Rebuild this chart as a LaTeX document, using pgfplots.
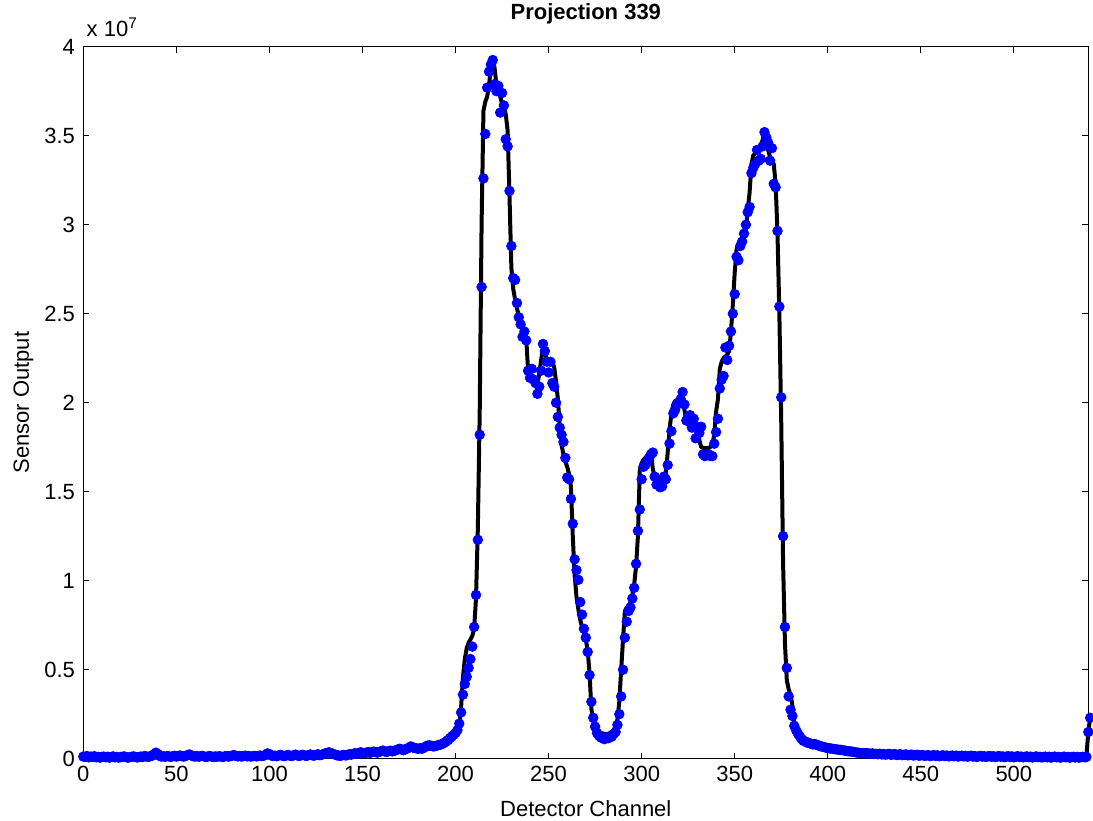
\documentclass[border=0pt]{standalone}
\usepackage{fontspec}
\setmainfont{Liberation Sans}
\usepackage{pgfplots}
\pgfplotsset{compat=1.18}

\begin{document}
\begin{tikzpicture}[font=\fontsize{11}{13}\selectfont]
\begin{axis}[
    scale only axis,
    width=502.5pt, height=356pt,
    xmin=0, xmax=540, ymin=0, ymax=40,
    xtick={0,50,...,500},
    ytick={0,5,...,40},
    yticklabels={0,0.5,1,1.5,2,2.5,3,3.5,4},
    /pgf/number format/assume math mode=true,
    tick align=inside,
    major tick length=3pt,
    tick style={black, line width=0.5pt},
    axis line style={line width=0.6pt},
    clip=false,
    xticklabel style={anchor=base, yshift=-11.3pt},
    yticklabel style={anchor=east, inner sep=0pt, xshift=-4pt},
    every axis title shift=0pt,
    title={\bfseries Projection 339},
    title style={at={(axis description cs:0.5,1.0388)}, anchor=base, inner sep=0pt},
    xlabel={Detector Channel},
    xlabel style={at={(axis description cs:0.5,-0.0812)}, anchor=base, inner sep=0pt},
    ylabel={Sensor Output},
    ylabel style={at={(axis description cs:-0.0541,0.5)}, anchor=base, inner sep=0pt},
]
% measured channel values (units of 1e6)
\addplot[only marks, mark=*, mark size=2.4pt, color=blue, mark options={fill=blue, draw=blue}] coordinates {
(0,0.12)(1,0.10)(2,0.15)(3,0.08)(4,0.12)(5,0.10)(6,0.14)(7,0.08)(8,0.10)(9,0.06)
(10,0.10)(11,0.12)(12,0.08)(13,0.11)(14,0.06)(15,0.10)(16,0.13)(17,0.08)(18,0.10)(19,0.06)
(20,0.09)(21,0.11)(22,0.13)(23,0.09)(24,0.06)(25,0.09)(26,0.11)(27,0.13)(28,0.10)(29,0.07)
(30,0.10)(31,0.12)(32,0.10)(33,0.15)(34,0.12)(35,0.10)(36,0.14)(37,0.17)(38,0.25)(39,0.34)
(40,0.27)(41,0.16)(42,0.12)(43,0.14)(44,0.11)(45,0.15)(46,0.13)(47,0.10)(48,0.14)(49,0.16)
(50,0.12)(51,0.15)(52,0.18)(53,0.14)(54,0.12)(55,0.16)(56,0.20)(57,0.24)(58,0.19)(59,0.14)
(60,0.12)(61,0.15)(62,0.11)(63,0.14)(64,0.16)(65,0.12)(66,0.10)(67,0.13)(68,0.15)(69,0.12)
(70,0.10)(71,0.13)(72,0.11)(73,0.14)(74,0.12)(75,0.10)(76,0.13)(77,0.15)(78,0.12)(79,0.14)
(80,0.18)(81,0.20)(82,0.16)(83,0.13)(84,0.15)(85,0.12)(86,0.14)(87,0.17)(88,0.13)(89,0.15)
(90,0.12)(91,0.14)(92,0.16)(93,0.13)(94,0.15)(95,0.18)(96,0.15)(97,0.17)(98,0.22)(99,0.30)
(100,0.26)(101,0.18)(102,0.15)(103,0.17)(104,0.14)(105,0.19)(106,0.22)(107,0.17)(108,0.15)(109,0.18)
(110,0.21)(111,0.17)(112,0.15)(113,0.19)(114,0.23)(115,0.18)(116,0.16)(117,0.19)(118,0.22)(119,0.18)
(120,0.16)(121,0.20)(122,0.24)(123,0.19)(124,0.17)(125,0.21)(126,0.25)(127,0.20)(128,0.22)(129,0.26)
(130,0.30)(131,0.33)(132,0.36)(133,0.32)(134,0.28)(135,0.24)(136,0.20)(137,0.18)(138,0.16)(139,0.19)
(140,0.21)(141,0.18)(142,0.22)(143,0.25)(144,0.23)(145,0.27)(146,0.31)(147,0.28)(148,0.32)(149,0.36)
(150,0.33)(151,0.30)(152,0.34)(153,0.37)(154,0.33)(155,0.36)(156,0.40)(157,0.37)(158,0.34)(159,0.38)
(160,0.42)(161,0.46)(162,0.41)(163,0.38)(164,0.42)(165,0.45)(166,0.41)(167,0.44)(168,0.48)(169,0.52)
(170,0.56)(171,0.52)(172,0.48)(173,0.53)(174,0.57)(175,0.62)(176,0.69)(177,0.64)(178,0.60)(179,0.58)
(180,0.56)(181,0.59)(182,0.56)(183,0.62)(184,0.68)(185,0.74)(186,0.75)(187,0.72)(188,0.69)(189,0.70)
(190,0.74)(191,0.77)(192,0.79)(193,0.84)(194,0.90)(195,0.97)(196,1.05)(197,1.15)(198,1.25)(199,1.35)
(200,1.45)(201,1.60)(202,1.97)(203,2.6)(204,3.6)(205,4.2)(206,4.6)(207,5.1)(208,5.6)(209,6.3)
(210,7.4)(211,9.2)(212,12.3)(213,18.2)(214,26.5)(215,32.6)(216,35.1)(217,37.7)(218,38.6)(219,39.0)
(220,39.25)(221,37.9)(222,37.5)(223,37.8)(224,36.3)(225,37.4)(226,36.7)(227,34.8)(228,34.4)(229,31.9)
(230,28.8)(231,27.0)(232,26.9)(233,25.6)(234,24.8)(235,24.4)(236,23.7)(237,24.0)(238,23.5)(239,21.8)
(240,21.4)(241,21.9)(242,21.3)(243,21.1)(244,20.5)(245,20.9)(246,21.8)(247,23.3)(248,22.9)(249,22.3)
(250,21.7)(251,22.3)(252,21.1)(253,20.9)(254,20.0)(255,19.2)(256,18.6)(257,18.2)(258,17.8)(259,16.9)
(260,15.8)(261,15.7)(262,14.6)(263,13.2)(264,11.2)(265,10.6)(266,10.05)(267,8.8)(268,8.1)(269,7.3)
(270,6.8)(271,6.0)(272,4.7)(273,3.2)(274,2.3)(275,1.8)(276,1.45)(277,1.3)(278,1.2)(279,1.15)
(280,1.1)(281,1.2)(282,1.15)(283,1.2)(284,1.25)(285,1.4)(286,1.5)(287,1.9)(288,2.5)(289,3.5)
(290,5.0)(291,6.8)(292,7.7)(293,8.3)(294,8.5)(295,9.0)(296,9.6)(297,10.95)(298,12.8)(299,14.0)
(300,15.7)(301,16.4)(302,16.5)(303,16.7)(304,16.9)(305,17.1)(306,17.2)(307,15.85)(308,15.4)(309,15.6)
(310,15.25)(311,15.3)(312,15.85)(313,15.7)(314,16.5)(315,17.7)(316,18.4)(317,19.4)(318,19.6)(319,19.9)
(320,20.0)(321,20.2)(322,20.6)(323,19.9)(324,19.0)(325,19.2)(326,19.3)(327,18.6)(328,19.1)(329,18.0)
(330,18.65)(331,18.3)(332,18.65)(333,17.1)(334,17.0)(335,17.1)(336,17.1)(337,17.0)(338,17.0)(339,17.7)
(340,18.35)(341,19.1)(342,20.8)(343,21.3)(344,21.5)(345,23.1)(346,22.4)(347,23.2)(348,24.0)(349,25.0)
(350,26.1)(351,28.2)(352,28.0)(353,28.8)(354,29.05)(355,29.5)(356,30.0)(357,30.7)(358,31.0)(359,32.9)
(360,33.2)(361,33.4)(362,34.2)(363,33.6)(364,33.7)(365,34.4)(366,35.2)(367,34.9)(368,34.6)(369,33.6)
(370,34.3)(371,32.3)(372,32.1)(373,29.65)(374,25.4)(375,20.3)(376,12.5)(377,7.4)(378,5.1)(379,3.5)
(380,2.75)(381,2.4)(382,1.85)(383,1.6)(384,1.4)(385,1.25)(386,1.1)(387,1.0)(388,0.97)(389,0.9)
(390,0.88)(391,0.84)(392,0.80)(393,0.82)(394,0.79)(395,0.74)(396,0.70)(397,0.68)(398,0.66)(399,0.62)
(400,0.60)(401,0.58)(402,0.57)(403,0.55)(404,0.53)(405,0.52)(406,0.50)(407,0.50)(408,0.48)(409,0.46)
(410,0.44)(411,0.42)(412,0.41)(413,0.40)(414,0.38)(415,0.36)(416,0.34)(417,0.33)(418,0.32)(419,0.31)
(420,0.30)(421,0.32)(422,0.29)(423,0.28)(424,0.30)(425,0.27)(426,0.27)(427,0.25)(428,0.28)(429,0.24)
(430,0.26)(431,0.23)(432,0.25)(433,0.27)(434,0.22)(435,0.24)(436,0.26)(437,0.21)(438,0.23)(439,0.25)
(440,0.20)(441,0.22)(442,0.24)(443,0.19)(444,0.21)(445,0.23)(446,0.18)(447,0.20)(448,0.22)(449,0.17)
(450,0.19)(451,0.21)(452,0.16)(453,0.18)(454,0.20)(455,0.15)(456,0.18)(457,0.20)(458,0.16)(459,0.19)
(460,0.14)(461,0.17)(462,0.19)(463,0.15)(464,0.18)(465,0.13)(466,0.16)(467,0.18)(468,0.14)(469,0.17)
(470,0.12)(471,0.15)(472,0.17)(473,0.13)(474,0.16)(475,0.11)(476,0.14)(477,0.17)(478,0.12)(479,0.15)
(480,0.10)(481,0.13)(482,0.16)(483,0.12)(484,0.14)(485,0.10)(486,0.13)(487,0.15)(488,0.11)(489,0.14)
(490,0.09)(491,0.12)(492,0.15)(493,0.11)(494,0.13)(495,0.09)(496,0.12)(497,0.14)(498,0.10)(499,0.13)
(500,0.08)(501,0.11)(502,0.14)(503,0.10)(504,0.12)(505,0.08)(506,0.11)(507,0.13)(508,0.09)(509,0.12)
(510,0.07)(511,0.10)(512,0.13)(513,0.09)(514,0.11)(515,0.07)(516,0.10)(517,0.12)(518,0.08)(519,0.11)
(520,0.06)(521,0.10)(522,0.12)(523,0.08)(524,0.10)(525,0.06)(526,0.09)(527,0.12)(528,0.08)(529,0.10)
(530,0.06)(531,0.09)(532,0.11)(533,0.07)(534,0.10)(535,0.06)(536,0.09)(537,0.11)(538,0.08)(539,0.10)
(540,1.5)(541,2.3)
};
% smoothed curve
\addplot[black, line width=2pt, line join=round] coordinates {
(0,0.17)(20,0.16)(36,0.18)(40,0.27)(44,0.18)(80,0.18)(100,0.24)(104,0.20)(128,0.22)
(132,0.30)(136,0.22)(144,0.26)(150,0.33)(160,0.42)(168,0.47)(174,0.50)(180,0.58)(186,0.66)
(190,0.75)(194,0.92)(199,1.25)(202,1.72)(203,2.9)(204,4.6)(205,5.6)(206,6.2)(207,6.5)
(208,6.7)(209,6.9)(210,7.3)(211,9.0)(212,13.0)(213,19.5)(214,30.0)(215,36.4)(216,36.9)
(217,37.2)(218,37.8)(219,38.9)(220,39.25)(221,38.8)(222,37.8)(223,37.5)(224,37.2)(225,36.8)
(226,36.6)(227,36.2)(228,35.3)(229,31.6)(230,27.6)(231,26.4)(232,25.8)(233,25.3)(234,24.9)
(235,24.6)(236,24.3)(237,24.1)(238,23.6)(239,21.8)(240,21.6)(241,21.5)(242,21.4)(243,21.3)
(244,21.1)(245,21.6)(246,22.4)(247,23.1)(248,22.8)(249,22.5)(250,22.4)(251,22.3)(252,22.3)
(253,22.0)(254,21.2)(255,20.2)(256,18.7)(257,17.6)(258,17.1)(259,16.7)(260,16.4)(261,16.0)
(262,15.3)(263,12.5)(264,10.3)(265,9.1)(266,8.4)(267,7.8)(268,7.4)(269,7.1)(270,6.7)
(271,6.1)(272,4.8)(273,2.8)(274,2.1)(275,1.7)(276,1.55)(277,1.48)(278,1.45)(280,1.4)
(282,1.4)(284,1.5)(285,1.6)(286,1.85)(287,2.2)(288,3.2)(289,5.0)(290,6.7)(291,8.3)
(292,8.5)(293,8.55)(294,8.8)(295,9.2)(296,9.8)(297,10.8)(298,12.5)(299,16.2)(300,16.6)
(301,16.8)(302,16.9)(303,17.0)(304,17.1)(305,17.2)(306,16.3)(307,15.8)(308,15.7)(310,15.7)
(312,15.7)(313,16.0)(314,17.2)(315,18.5)(316,19.4)(317,19.9)(318,20.1)(320,20.2)(322,20.4)
(323,19.6)(324,19.0)(325,18.75)(327,18.6)(329,18.5)(330,18.65)(331,17.9)(332,17.5)(334,17.45)
(336,17.45)(338,17.6)(339,18.2)(340,19.5)(341,20.2)(342,21.9)(343,22.3)(344,22.5)(345,22.6)
(346,22.7)(347,22.9)(348,24.0)(349,25.5)(350,27.3)(351,28.6)(352,28.9)(353,29.0)(354,29.1)
(355,29.3)(356,29.7)(357,30.8)(358,31.8)(359,33.4)(360,33.9)(361,34.0)(362,34.1)(363,34.2)
(364,34.4)(365,34.75)(366,35.3)(367,34.8)(368,34.2)(369,33.8)(370,33.6)(371,33.4)(372,32.3)
(373,29.5)(374,25.0)(375,19.0)(376,11.0)(377,6.5)(378,4.4)(379,3.9)(380,3.6)(381,3.0)
(382,2.0)(383,1.5)(385,1.07)(387,0.95)(389,0.88)(393,0.79)(397,0.65)(400,0.60)(404,0.50)
(409,0.47)(415,0.38)(423,0.32)(430,0.28)(440,0.25)(450,0.22)(470,0.20)(539,0.18)(540,1.5)(541,2.3)
};
\node[anchor=base west, inner sep=0pt] at (axis description cs:0.003,1.014) {x 10\textsuperscript{7}};
\end{axis}
\pgfresetboundingbox
\path ([shift={(-41.65pt,-31pt)}]current axis.south west) rectangle ([shift={(2.35pt,23.35pt)}]current axis.north east);
\end{tikzpicture}
\end{document}
